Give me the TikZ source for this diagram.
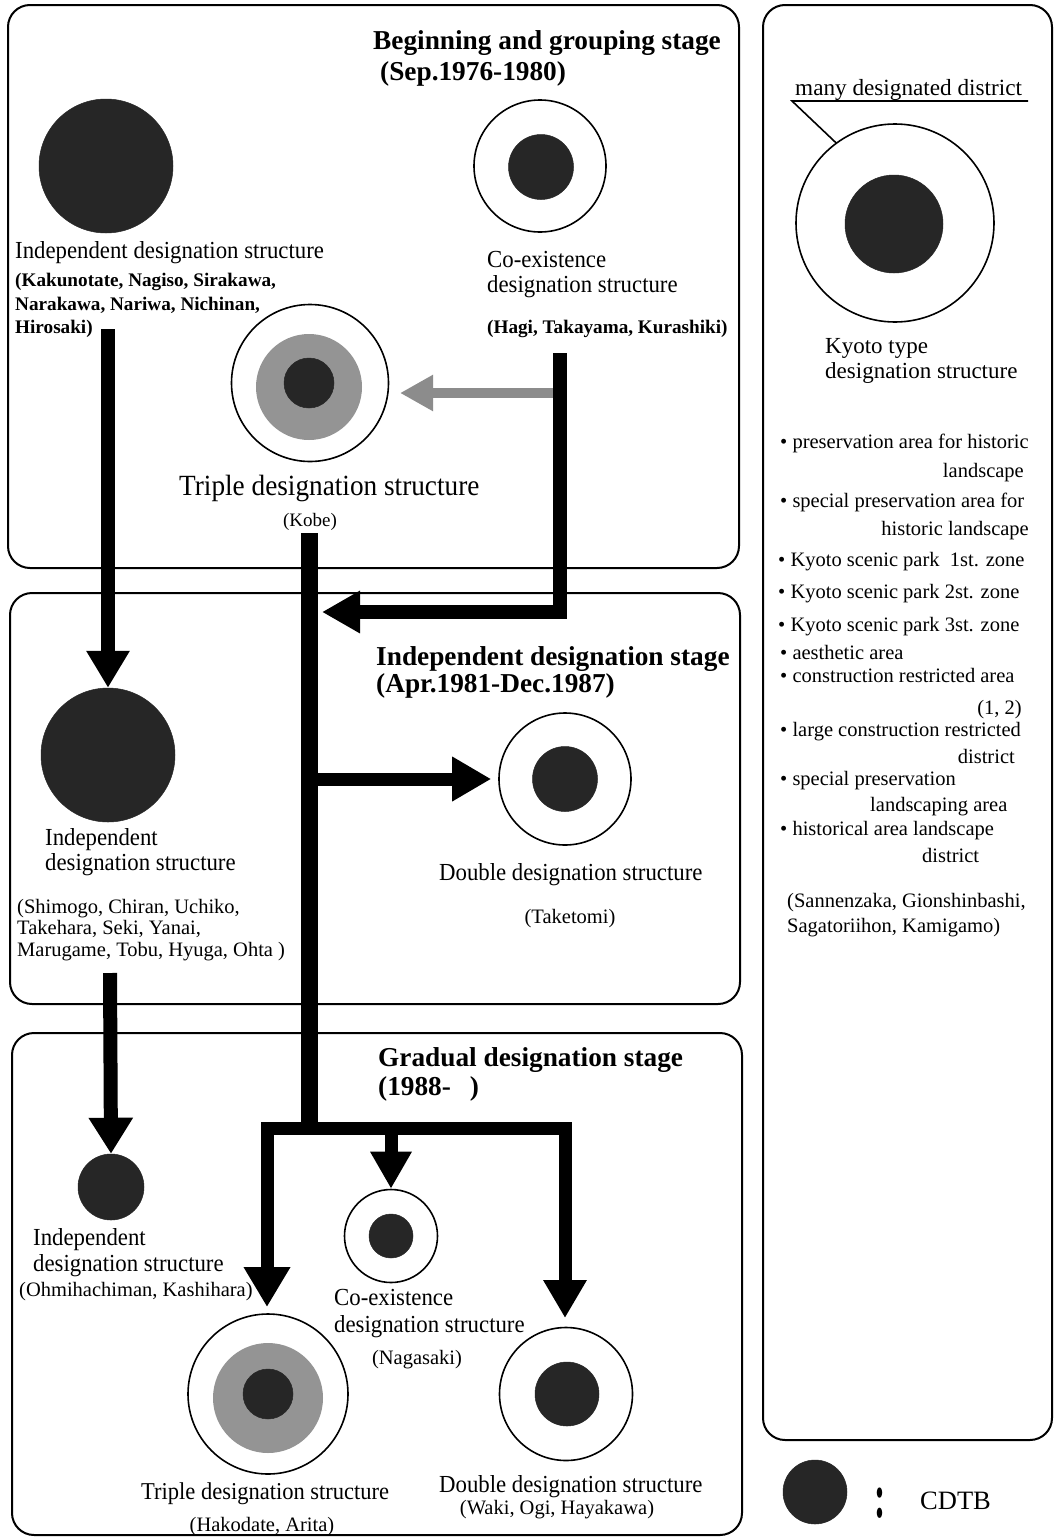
\documentclass[tikz,border=0pt]{standalone}
\usepackage{fontspec}
\setmainfont{Liberation Serif}
\newfontfamily\cf[FakeStretch=0.93]{Liberation Serif}
\usetikzlibrary{arrows.meta}
\tikzset{
  ttl/.style={inner sep=0pt, anchor=base west, font=\bfseries\fontsize{27.3}{30}\selectfont},
  lbl/.style={inner sep=0pt, anchor=base west, font=\cf\fontsize{24.5}{26}\selectfont},
  plbl/.style={inner sep=0pt, anchor=base west, font=\fontsize{20.5}{22}\selectfont},
  pbold/.style={inner sep=0pt, anchor=base west, font=\bfseries\fontsize{19.2}{22}\selectfont},
  rtxt/.style={inner sep=0pt, anchor=base west, font=\fontsize{20.5}{22}\selectfont},
  dark/.style={circle, inner sep=0pt, fill=black!85, draw=black!85, line width=0.5pt},
  ringc/.style={circle, inner sep=0pt, draw=black, line width=1.6pt, fill=white},
  grayc/.style={circle, inner sep=0pt, fill=black!42},
  stagebox/.style={draw=black, line width=2pt, rounded corners=22pt},
  bar/.style={line width=14pt, black},
}
\begin{document}
\begin{tikzpicture}[x=1pt, y=-1pt]
\useasboundingbox (0,0) rectangle (1055,1537);
\fill[white] (0,0) rectangle (1055,1537);

% ---------- frames ----------
\draw[stagebox] (8,5) rectangle (739,568);
\draw[stagebox] (10,593) rectangle (740,1004);
\draw[stagebox] (12,1033) rectangle (742,1535);
\draw[stagebox] (763,5) rectangle (1052,1440);

% ---------- stage 1 ----------
\node[ttl] (t1a) at (373,49) {Beginning and grouping stage};
\node[ttl] (t1b) at (380,80) {(Sep.1976-1980)};

\node[dark, minimum size=134pt] (ind1) at (106,166) {};
\node[lbl] (l1) at (15,258) {Independent designation structure};
\node[pbold] (p1a) at (15,286) {(Kakunotate, Nagiso, Sirakawa,};
\node[pbold] (p1b) at (15,310) {Narakawa, Nariwa, Nichinan,};
\node[pbold] (p1c) at (15,333) {Hirosaki)};

\node[ringc, minimum size=132pt] (co1) at (540,166) {};
\node[dark, minimum size=65pt] (co1i) at (541,167) {};
\node[lbl] (l2a) at (487,267) {Co-existence};
\node[lbl] (l2b) at (487,292) {designation structure};
\node[pbold] (p2) at (487,333) {(Hagi, Takayama, Kurashiki)};

\node[ringc, minimum size=157pt] (tri1) at (310,383) {};
\node[grayc, minimum size=106pt] (tri1g) at (309,387) {};
\node[dark, minimum size=50pt] (tri1i) at (309,383) {};
\node[lbl, font=\cf\fontsize{29.3}{31}\selectfont] (l3) at (179,495) {Triple designation structure};
\node[plbl, anchor=base, font=\fontsize{19}{22}\selectfont] (p3) at (310,526) {(Kobe)};

% ---------- stage 2 ----------
\node[ttl] (t2a) at (376,665) {Independent designation stage};
\node[ttl] (t2b) at (376,692) {(Apr.1981-Dec.1987)};

\node[dark, minimum size=134pt] (ind2) at (108,755) {};
\node[lbl] (l4a) at (45,845) {Independent};
\node[lbl] (l4b) at (45,870) {designation structure};
\node[plbl] (p4a) at (17,913) {(Shimogo, Chiran, Uchiko,};
\node[plbl] (p4b) at (17,934) {Takehara, Seki, Yanai,};
\node[plbl] (p4c) at (17,956) {Marugame, Tobu, Hyuga, Ohta )};

\node[ringc, minimum size=132pt] (dbl1) at (565,779) {};
\node[dark, minimum size=65pt] (dbl1i) at (565,779) {};
\node[lbl] (l5) at (439,880) {Double designation structure};
\node[plbl, anchor=base] (p5) at (570,923) {(Taketomi)};

% ---------- stage 3 ----------
\node[ttl] (t3a) at (378,1066) {Gradual designation stage};
\node[ttl] (t3b) at (378,1095) {(1988-\hspace{19pt})};

\node[dark, minimum size=66pt] (ind3) at (111,1187) {};
\node[lbl] (l6a) at (33,1245) {Independent};
\node[lbl] (l6b) at (33,1271) {designation structure};
\node[plbl] (p6) at (19,1296) {(Ohmihachiman, Kashihara)};

\node[ringc, minimum size=93pt] (co2) at (391,1236) {};
\node[dark, minimum size=44pt] (co2i) at (391,1236) {};
\node[lbl] (l7a) at (334,1305) {Co-existence};
\node[lbl] (l7b) at (334,1332) {designation structure};
\node[plbl, anchor=base] (p7) at (417,1364) {(Nagasaki)};

\node[ringc, minimum size=160pt] (tri2) at (268,1394) {};
\node[grayc, minimum size=110pt] (tri2g) at (268,1398) {};
\node[dark, minimum size=50pt] (tri2i) at (268,1394) {};
\node[lbl, font=\cf\fontsize{24.2}{26}\selectfont] (l8) at (141,1499) {Triple designation structure};
\node[plbl, anchor=base] (p8) at (262,1531) {(Hakodate, Arita)};

\node[ringc, minimum size=133pt] (dbl2) at (566,1394) {};
\node[dark, minimum size=64pt] (dbl2i) at (567,1394) {};
\node[lbl] (l9) at (439,1492) {Double designation structure};
\node[plbl, anchor=base] (p9) at (557,1514) {(Waki, Ogi, Hayakawa)};

% ---------- connectors ----------
\coordinate (a1s) at (108,329);
\draw[bar, -{Triangle[length=37pt,width=41pt]}] (a1s) -- (ind2.north);
\coordinate (a2s) at (110,973);
\draw[bar, -{Triangle[length=36pt,width=42pt]}] (a2s) -- (ind3.north);

\coordinate (gs) at (554,393);
\coordinate (gt) at (400,393);
\draw[line width=10pt, black!45, -{Triangle[length=33pt,width=34pt]}] (gs) -- (gt);

\coordinate (rb) at (560,353);
\coordinate (ktip) at (322,612);
\draw[bar, -{Triangle[length=38pt,width=40pt]}] (rb) |- (ktip);

\coordinate (kb) at (309,533);
\coordinate (kbend) at (309,1135);
\draw[line width=17pt] (kb) -- (kbend);

\coordinate (ds) at (317,779);
\draw[bar, line width=13pt, -{Triangle[length=39pt,width=42pt]}] (ds) -- ([xshift=-7pt]dbl1.west);

\coordinate (bl) at (267,1128);
\coordinate (brr) at (565,1128);
\coordinate (tipL) at (267,1307);
\coordinate (tipR) at (565,1318);
\draw[bar, line width=13pt, {Triangle[length=40pt,width=44pt]}-{Triangle[length=38pt,width=41pt]}] (tipL) -- (bl) -- (brr) -- (tipR);
\coordinate (bm) at (391,1128);
\draw[bar, line width=13pt, -{Triangle[length=37pt,width=39pt]}] (bm) -- (co2.north);

% ---------- right panel ----------
\node[inner sep=0pt, anchor=base west, font=\fontsize{23.2}{25}\selectfont] (many) at (795,95) {many designated district};
\coordinate (ul1) at (792,101);
\coordinate (ul2) at (1028,101);
\coordinate (ul3) at (852,158);
\draw[line width=1.6pt] (ul2) -- (ul1) -- (ul3);
\node[ringc, minimum size=198pt] (ky) at (895,223) {};
\node[dark, minimum size=98pt] (kyi) at (894,224) {};
\node[inner sep=0pt, anchor=base west, font=\fontsize{23}{25}\selectfont] (kya) at (825,353) {Kyoto type};
\node[inner sep=0pt, anchor=base west, font=\fontsize{23}{25}\selectfont] (kyb) at (825,378) {designation structure};

\node[rtxt] (r1) at (780,448) {• preservation area for historic};
\node[rtxt, anchor=base east] (r1b) at (1024,477) {landscape};
\node[rtxt] (r2) at (780,507) {• special preservation area for};
\node[rtxt, anchor=base east] (r2b) at (1029,535) {historic landscape};
\node[rtxt] (r3) at (778,566) {• Kyoto scenic park\ \ 1st. zone};
\node[rtxt] (r4) at (778,598) {• Kyoto scenic park 2st. zone};
\node[rtxt] (r5) at (778,631) {• Kyoto scenic park 3st. zone};
\node[rtxt] (r6) at (780,659) {• aesthetic area};
\node[rtxt] (r7) at (780,682) {• construction restricted area};
\node[rtxt, anchor=base east] (r7b) at (1022,714) {(1, 2)};
\node[rtxt] (r8) at (780,736) {• large construction restricted};
\node[rtxt, anchor=base east] (r8b) at (1015,763) {district};
\node[rtxt] (r9) at (780,785) {• special preservation};
\node[rtxt] (r9b) at (870,811) {landscaping area};
\node[rtxt] (r10) at (780,835) {• historical area landscape};
\node[rtxt] (r10b) at (922,862) {district};
\node[rtxt] (r11) at (787,907) {(Sannenzaka, Gionshinbashi,};
\node[rtxt] (r12) at (787,932) {Sagatoriihon, Kamigamo)};

% ---------- legend ----------
\node[dark, minimum size=64pt] (leg) at (815,1492) {};
\node[inner sep=0pt, anchor=base, font=\bfseries\fontsize{42}{42}\selectfont] (colon) at (880,1517) {\scalebox{0.8}[1.5]{:}};
\node[inner sep=0pt, anchor=base west, font=\fontsize{26.5}{28}\selectfont] (cdtb) at (920,1509) {CDTB};
\end{tikzpicture}
\end{document}
